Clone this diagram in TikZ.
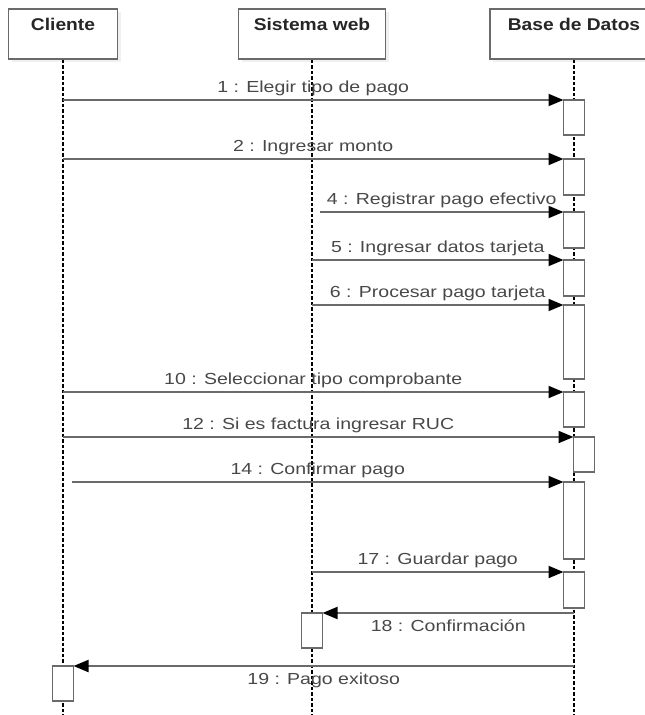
\documentclass[tikz,border=0pt]{standalone}
\usepackage{fontspec}
\setmainfont{Liberation Sans}
\newfontfamily\msgfont[FakeStretch=1.22]{Liberation Sans}
\newfontfamily\headfont[FakeStretch=1.13]{Liberation Sans}
\usepackage{tikz}
\usetikzlibrary{arrows.meta,positioning,calc,shadows}
\definecolor{seqgray}{HTML}{6A6A6A}
\definecolor{seqtext}{HTML}{484848}
\tikzset{
  actor/.style={
    draw=seqgray,
    line width=1.8pt,
    fill=white,
    drop shadow={shadow xshift=3pt, shadow yshift=-3pt, opacity=0.12},
    anchor=north,
    inner sep=4pt,
    text height=18pt,
    text depth=24pt,
    text=black!85,
    font=\headfont\bfseries\fontsize{17}{20}\selectfont
  },
  activ/.style={
    draw=seqgray,
    line width=1.8pt,
    fill=white,
    minimum width=21pt,
    inner sep=0pt,
    outer sep=0pt,
    anchor=north
  },
  lifeline/.style={draw=black, line width=1.2pt, dash pattern=on 3.5pt off 2pt},
  msg/.style={draw=seqgray, line width=1.9pt, -{Triangle[length=15pt,width=12pt,color=black]}},
  msglabel/.style={
    text=seqtext,
    font=\msgfont\fontsize{16}{19}\selectfont,
    text height=12pt,
    text depth=3.5pt,
    inner sep=3.5pt
  }
}

\begin{document}
\begin{tikzpicture}[x=1pt,y=-1pt]
\useasboundingbox (0,0) rectangle (645,715);
\clip (0,0) rectangle (645,715);

% actors
\node[actor, minimum width=109pt] (cli) at (63,8) {Cliente};
\node[actor, minimum width=147pt] (web) at (312,8) {Sistema web};
\node[actor, minimum width=168pt] (bd) at (574,8) {Base de Datos};

% lifelines
\foreach \a in {cli,web,bd}
  \draw[lifeline] (\a.south) -- (\a |- 0,715);

% activations
\foreach \n/\y/\h in {1/100/35, 2/159/36, 4/212/36, 5/260/36, 6/305/74, 10/392/35, 14/482/77, 17/572/36}
  \node[activ, minimum height=\h pt] (a\n) at (bd |- 0,\y) {};
\node[activ, minimum height=35pt] (a12) at ($(bd |- 0,437)+(10,0)$) {};
\node[activ, minimum height=35pt] (a18) at (web |- 0,613) {};
\node[activ, minimum height=35pt] (a19) at (cli |- 0,666) {};

% messages
\draw[msg] (cli |- a1.north west) -- node[msglabel, above] {1 : Elegir tipo de pago} (a1.north west);
\draw[msg] (cli |- a2.north west) -- node[msglabel, above] {2 : Ingresar monto} (a2.north west);
\draw[msg] ($(web |- a4.north west)+(8,0)$) -- node[msglabel, above] {4 : Registrar pago efectivo} (a4.north west);
\draw[msg] (web |- a5.north west) -- node[msglabel, above] {5 : Ingresar datos tarjeta} (a5.north west);
\draw[msg] (web |- a6.north west) -- node[msglabel, above] {6 : Procesar pago tarjeta} (a6.north west);
\draw[msg] (cli |- a10.north west) -- node[msglabel, above] {10 : Seleccionar tipo comprobante} (a10.north west);
\draw[msg] (cli |- a12.north west) -- node[msglabel, above] {12 : Si es factura ingresar RUC} (a12.north west);
\draw[msg] ($(cli |- a14.north west)+(9,0)$) -- node[msglabel, above] {14 : Confirmar pago} (a14.north west);
\draw[msg] (web |- a17.north west) -- node[msglabel, above] {17 : Guardar pago} (a17.north west);
\draw[msg] (bd |- a18.north east) -- node[msglabel, below=2.5pt] {18 : Confirmación} (a18.north east);
\draw[msg] (bd |- a19.north east) -- node[msglabel, below=2.5pt] {19 : Pago exitoso} (a19.north east);
\end{tikzpicture}
\end{document}
